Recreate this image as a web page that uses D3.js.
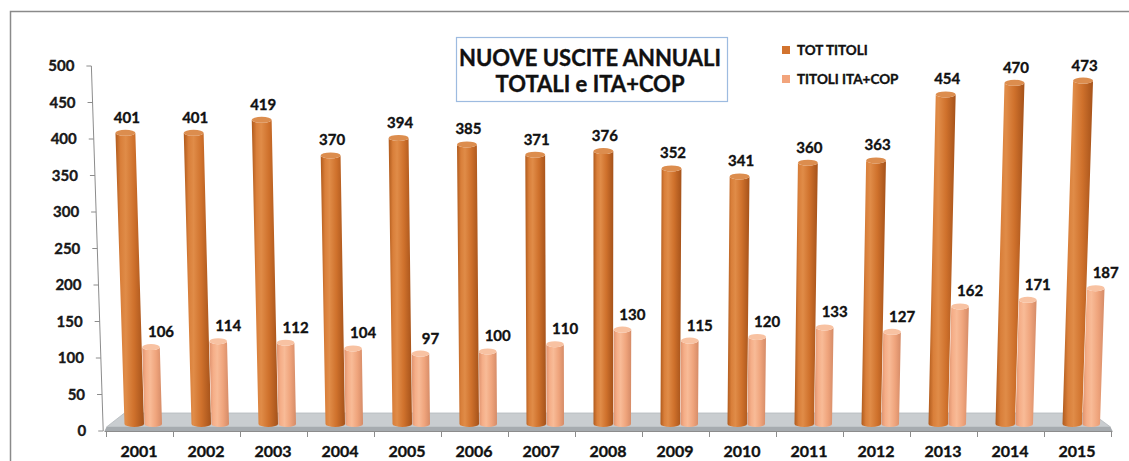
<!DOCTYPE html>
<meta charset="utf-8">

<!-- Load d3.js -->
<script src="https://d3js.org/d3.v7.min.js"></script>

<style>
  body { margin: 0; background: #fff; }
  text { font-family: Lato, "Open Sans", sans-serif; font-weight: 700; stroke: #111; stroke-width: 0.35px; }
</style>

<!-- Create a div where the graph will take place -->
<div id="my_dataviz"></div>
<script>

    // data
    var years = ["2001", "2002", "2003", "2004", "2005", "2006", "2007", "2008",
                 "2009", "2010", "2011", "2012", "2013", "2014", "2015"];
    var totTitoli = [401, 401, 419, 370, 394, 385, 371, 376, 352, 341, 360, 363, 454, 470, 473];
    var titoliItaCop = [106, 114, 112, 104, 97, 100, 110, 130, 115, 120, 133, 127, 162, 171, 187];
    var yTicks = [0, 50, 100, 150, 200, 250, 300, 350, 400, 450, 500];
    var legendLabels = ["TOT TITOLI", "TITOLI ITA+COP"];
    var titleLines = ["NUOVE USCITE ANNUALI", "TOTALI e ITA+COP"];

    var width = 1129, height = 461;

    var svg = d3.select("#my_dataviz")
      .append("svg")
        .attr("width", width)
        .attr("height", height);

    // outer frame (right and bottom edges fall outside the picture)
    svg.append("rect")
        .attr("x", 10.5).attr("y", 11.5)
        .attr("width", width).attr("height", height)
        .attr("fill", "none")
        .attr("stroke", "#8a8a8a")
        .attr("stroke-width", 1.5);

    // scales
    var xScale = d3.scaleBand()
        .domain(years)
        .range([106.5, 1111.5]);
    var xSeries = d3.scaleBand()
        .domain([0, 1])
        .range([18, 57]);
    var yScale = d3.scaleLinear()      // bars stand on the back of the floor
        .domain([0, 500])
        .range([424, 61]);
    var yAxisScale = d3.scaleLinear()  // axis labels sit on the front
        .domain([0, 500])
        .range([431, 66]);

    // the chart was exported with perspective: vertical lines open up going upwards
    var cx = 595, k = 0.000066, yBase = 424;
    function warpX(x, y) { return cx + (x - cx) * (1 + k * (yBase - y)); }

    // gradients for the cylinders
    var defs = svg.append("defs");
    function addGradient(id, stops) {
        var g = defs.append("linearGradient")
            .attr("id", id)
            .attr("x1", 0).attr("x2", 1).attr("y1", 0).attr("y2", 0);
        stops.forEach(function(s) {
            g.append("stop").attr("offset", s[0]).attr("stop-color", s[1]);
        });
    }
    addGradient("gradTot", [[0, "#b05a1c"], [0.18, "#d97f3a"], [0.36, "#e08c48"],
                            [0.65, "#cf712c"], [1, "#a5521a"]]);
    addGradient("gradIta", [[0, "#e0936f"], [0.2, "#f5ae88"], [0.4, "#f8bb97"],
                            [0.7, "#efa47c"], [1, "#d58b67"]]);

    var series = [
        {name: legendLabels[0], values: totTitoli, grad: "url(#gradTot)", cap: "#dc8d4e", swatch: "#d2732e", labelDx: 1.5},
        {name: legendLabels[1], values: titoliItaCop, grad: "url(#gradIta)", cap: "#f8c2a2", swatch: "#f2a47c", labelDx: 10}
    ];

    // floor
    var x0 = xScale.range()[0], x1 = xScale.range()[1];
    svg.append("path")
        .attr("d", "M" + (x0 + 18) + ",413 L" + (x1 - 20) + ",413 L" + (x1 - 1) + ",427 L" + x0 + ",427 Z")
        .attr("fill", "#c9cdd0")
        .attr("stroke", "#b4b9bd")
        .attr("stroke-width", 0.8);
    svg.append("path")
        .attr("d", "M" + x0 + ",427 L" + (x1 - 1) + ",427 L" + (x1 + 1) + ",431 L" + (x0 - 2) + ",431 Z")
        .attr("fill", "#a6abaf");

    // x axis line and ticks
    svg.append("line")
        .attr("x1", x0 - 2).attr("x2", x1 + 1)
        .attr("y1", 431.5).attr("y2", 431.5)
        .attr("stroke", "#8c8c8c");
    svg.append("g")
      .selectAll("line")
      .data(years.concat(["end"]))
      .enter()
      .append("line")
        .attr("x1", function(d, i) { return x0 + i * xScale.bandwidth(); })
        .attr("x2", function(d, i) { return x0 + i * xScale.bandwidth(); })
        .attr("y1", 431).attr("y2", 437)
        .attr("stroke", "#8c8c8c");

    // year labels
    svg.append("g")
      .selectAll("text")
      .data(years)
      .enter()
      .append("text")
        .attr("x", function(d) { return xScale(d) + xScale.bandwidth() / 2 - 1; })
        .attr("y", 457)
        .attr("text-anchor", "middle")
        .attr("font-size", 16)
        .attr("fill", "#111")
        .text(function(d) { return d; });

    // y axis, following the perspective
    var axX = 103;
    svg.append("line")
        .attr("x1", warpX(axX, 431)).attr("y1", 431)
        .attr("x2", warpX(axX, 66)).attr("y2", 66)
        .attr("stroke", "#8c8c8c");
    var yTick = svg.append("g")
      .selectAll("g")
      .data(yTicks)
      .enter()
      .append("g");
    yTick.append("line")
        .attr("x1", function(d) { return warpX(axX, yAxisScale(d)) - 5; })
        .attr("x2", function(d) { return warpX(axX, yAxisScale(d)); })
        .attr("y1", function(d) { return yAxisScale(d); })
        .attr("y2", function(d) { return yAxisScale(d); })
        .attr("stroke", "#8c8c8c");
    yTick.append("text")
        .attr("x", function(d) { return warpX(axX, yAxisScale(d)) - 17; })
        .attr("y", function(d) { return yAxisScale(d); })
        .attr("dy", "0.36em")
        .attr("text-anchor", "end")
        .attr("font-size", 15)
        .attr("fill", "#1a1a1a")
        .text(function(d) { return d; });

    // cylinders
    function cylinderPath(xl, xr, yTop, yBot, ry) {
        var tl = warpX(xl, yTop), tr = warpX(xr, yTop);
        var bl = warpX(xl, yBot), br = warpX(xr, yBot);
        var rb = (br - bl) / 2, rt = (tr - tl) / 2;
        return "M" + tl + "," + yTop + " L" + bl + "," + yBot +
            " A" + rb + "," + ry + " 0 0 0 " + br + "," + yBot +
            " L" + tr + "," + yTop +
            " A" + rt + "," + ry + " 0 0 1 " + tl + "," + yTop + " Z";
    }

    var ry = 3;
    series.forEach(function(s, si) {
        var g = svg.append("g");
        var bars = g.selectAll("g")
          .data(s.values)
          .enter()
          .append("g");
        function left(d, i) { return xScale(years[i]) + xSeries(si) + (si == 1 ? 0.5 : 0); }
        function right(d, i) { return xScale(years[i]) + xSeries(si) + xSeries.bandwidth() - (si == 1 ? 1.5 : 0); }
        bars.append("path")
            .attr("d", function(d, i) { return cylinderPath(left(d, i), right(d, i), yScale(d), yScale(0), ry); })
            .attr("fill", s.grad);
        bars.append("ellipse")
            .attr("cx", function(d, i) { return (warpX(left(d, i), yScale(d)) + warpX(right(d, i), yScale(d))) / 2; })
            .attr("cy", function(d) { return yScale(d); })
            .attr("rx", function(d, i) { return (warpX(right(d, i), yScale(d)) - warpX(left(d, i), yScale(d))) / 2; })
            .attr("ry", ry)
            .attr("fill", s.cap);
        bars.append("text")
            .attr("x", function(d, i) {
                var c = (left(d, i) + right(d, i)) / 2;
                return warpX(c, yScale(d)) + s.labelDx;
            })
            .attr("y", function(d) { return yScale(d) - 10; })
            .attr("text-anchor", "middle")
            .attr("font-size", 15)
            .attr("fill", "#111")
            .text(function(d) { return d; });
    });

    // title box
    svg.append("rect")
        .attr("x", 456.5).attr("y", 37.5)
        .attr("width", 271).attr("height", 64)
        .attr("fill", "#fff")
        .attr("stroke", "#9dbbe0")
        .attr("stroke-width", 1.2);
    svg.append("g")
      .selectAll("text")
      .data(titleLines)
      .enter()
      .append("text")
        .attr("x", 590)
        .attr("y", function(d, i) { return 66 + i * 26; })
        .attr("text-anchor", "middle")
        .attr("font-size", 22)
        .attr("fill", "#111")
        .text(function(d) { return d; });

    // legend
    var legend = svg.append("g")
      .selectAll("g")
      .data(series)
      .enter()
      .append("g")
        .attr("transform", function(d, i) { return "translate(782," + (46 + i * 29) + ")"; });
    legend.append("rect")
        .attr("width", 8).attr("height", 8)
        .attr("fill", function(d) { return d.swatch; });
    legend.append("text")
        .attr("x", 15).attr("y", 8.5)
        .attr("font-size", 13.5)
        .attr("fill", "#111")
        .text(function(d) { return d.name; });

</script>
